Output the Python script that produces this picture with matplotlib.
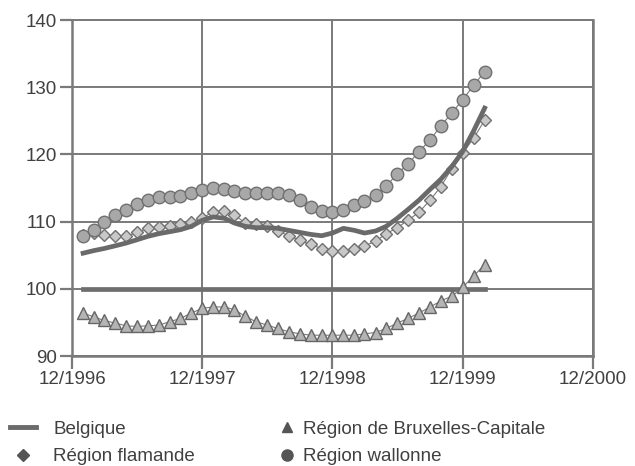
import matplotlib
matplotlib.use("Agg")
import matplotlib.pyplot as plt
import matplotlib.dates as mdates
from matplotlib.lines import Line2D
import pandas as pd

plt.rcParams['font.family'] = ['Liberation Sans', 'DejaVu Sans']

# monthly index, 01/1997 .. 02/2000
months = pd.date_range('1997-01-01', periods=38, freq='MS')

belgique = [105.3, 105.7, 106.0, 106.4, 106.8, 107.3, 107.8, 108.2, 108.5, 108.8,
            109.3, 110.2, 110.7, 110.5, 109.8, 109.3, 109.1, 109.1, 109.0, 108.7,
            108.4, 108.1, 107.9, 108.3, 109.0, 108.7, 108.3, 108.6, 109.3, 110.5,
            111.8, 113.2, 114.8, 116.3, 118.2, 120.4, 123.5, 126.9]
flamande = [108.0, 108.3, 108.0, 107.8, 107.8, 108.4, 109.0, 109.2, 109.4, 109.6,
            110.0, 110.5, 111.5, 111.6, 111.0, 109.8, 109.6, 109.3, 108.6, 107.9,
            107.2, 106.6, 106.0, 105.7, 105.6, 105.9, 106.4, 107.1, 108.2, 109.1,
            110.2, 111.4, 113.2, 115.2, 117.9, 120.2, 122.4, 125.1]
bruxelles = [96.4, 95.8, 95.3, 94.9, 94.5, 94.4, 94.5, 94.6, 95.1, 95.6,
             96.4, 97.1, 97.3, 97.3, 96.9, 95.9, 95.1, 94.6, 94.1, 93.6,
             93.3, 93.1, 93.1, 93.1, 93.1, 93.1, 93.3, 93.5, 94.1, 94.9,
             95.6, 96.4, 97.3, 98.2, 98.9, 100.2, 101.9, 103.6]
wallonne = [107.8, 108.8, 110.0, 111.0, 111.8, 112.6, 113.2, 113.6, 113.7, 113.8,
            114.2, 114.7, 115.0, 114.8, 114.6, 114.3, 114.3, 114.3, 114.3, 114.0,
            113.2, 112.2, 111.6, 111.5, 111.7, 112.5, 113.1, 114.0, 115.3, 117.1,
            118.6, 120.4, 122.2, 124.2, 126.2, 128.1, 130.3, 132.3]
base = [100] * len(months)

xticks = pd.to_datetime(['1996-12-01', '1997-12-01', '1998-12-01', '1999-12-01', '2000-12-01'])

grey = '#7a7a7a'
txt = '#404040'

fig = plt.figure(figsize=(6.35, 4.66), dpi=100)
ax = fig.add_axes([0.1134, 0.236, 0.8206, 0.721])

ax.plot(months, base, color='#6e6e6e', lw=3.4, zorder=3)
ax.plot(months, bruxelles, color=grey, lw=0.8, marker='^', ms=8,
        mfc='#b4b4b4', mec='#666666', mew=1.0, zorder=4)
ax.plot(months, flamande, color=grey, lw=0.8, marker='D', ms=6.5,
        mfc='#c8c8c8', mec='#707070', mew=1.0, zorder=4)
ax.plot(months, belgique, color='#6a6a6a', lw=3.4, zorder=5)
ax.plot(months, wallonne, color=grey, lw=0.8, marker='o', ms=9,
        mfc='#a8a8a8', mec='#707070', mew=1.0, zorder=6)

ax.set_xlim(xticks[0], xticks[-1])
ax.set_ylim(90, 140)
ax.set_yticks([90, 100, 110, 120, 130, 140])
ax.set_xticks(xticks)
ax.xaxis.set_major_formatter(mdates.DateFormatter('%m/%Y'))

ax.grid(True, color=grey, lw=1.4)
ax.set_axisbelow(True)
for s in ax.spines.values():
    s.set_color(grey)
    s.set_linewidth(1.8)
ax.spines['top'].set_linewidth(1.4)
ax.tick_params(direction='out', length=9, width=1.6, color=grey,
               labelsize=13.5, labelcolor=txt, pad=2)

# legend, two columns placed separately
h_belg = Line2D([], [], color='#6a6a6a', lw=3.5)
h_fla = Line2D([], [], ls='', marker='D', ms=6, mfc='#555555', mec='#555555')
h_bru = Line2D([], [], ls='', marker='^', ms=7, mfc='#555555', mec='#555555')
h_wal = Line2D([], [], ls='', marker='o', ms=8, mfc='#555555', mec='#555555')

leg1 = fig.legend([h_belg, h_fla], ['Belgique', 'Région flamande'],
                  loc='upper left', bbox_to_anchor=(0.016, 0.097), frameon=False,
                  fontsize=13.5, handlelength=1.4, handletextpad=0.9,
                  labelspacing=0.55, borderaxespad=0, borderpad=0)
leg2 = fig.legend([h_bru, h_wal], ['Région de Bruxelles-Capitale', 'Région wallonne'],
                  loc='upper left', bbox_to_anchor=(0.44, 0.097), frameon=False,
                  fontsize=13.5, handlelength=0.8, handletextpad=0.45,
                  labelspacing=0.55, borderaxespad=0, borderpad=0)
for leg in (leg1, leg2):
    for t in leg.get_texts():
        t.set_color(txt)

fig.savefig('out.png', dpi=100)
